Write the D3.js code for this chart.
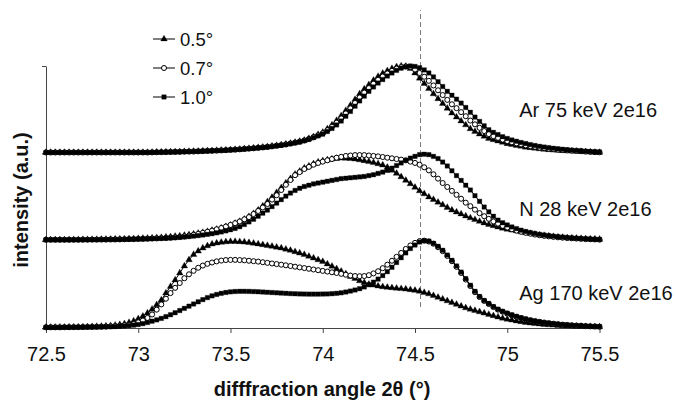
<!DOCTYPE html>
<meta charset="utf-8">
<style>
body { margin: 0; background: #fff; }
svg { font-family: "Liberation Sans", Arial, sans-serif; }
.axis path, .axis line { stroke: #444; }
.axis text { font-size: 20px; fill: #111; font-family: "Liberation Sans", Arial, sans-serif; }
.curve { fill: none; stroke: #000; stroke-width: 1px; }
.title { font-size: 20px; font-weight: bold; fill: #111; }
.label { font-size: 20px; fill: #111; }
.legend text { font-size: 18.5px; fill: #111; }
</style>
<script src="https://cdn.jsdelivr.net/npm/d3@7"></script>
<body>
<script>

var width = 676,
    height = 401;

// 2theta grid, one reading every 0.025 deg
var angles = d3.range(121).map(function(i) { return 72.5 + i * 0.025; });
var xTicks = [72.5, 73, 73.5, 74, 74.5, 75, 75.5];
var tilts = ["0.5°", "0.7°", "1.0°"];
var refAngle = 74.53;         // dashed reference line
var refSpan = [0.24, 3.64];

// intensities in % of one stack step
var ar05 = [1,1,1,1,1,1,1,1,1,1, 1,1,1,1,1,1,1,1,1,1,
  1,1,1,1.1,1.3,1.4,1.5,1.6,1.7,1.8, 2,2.1,2.2,2.4,2.6,2.8,3,3.2,3.5,3.7,
  4,4.3,4.7,5.1,5.5,6,6.5,7,7.5,8.2, 8.9,9.7,10.5,11.5,12.5,13.7,15,17,19,21.5,
  24,28,32.5,37.5,43,49,55,61.5,68,73.5, 78.5,83.5,88,91.5,94.5,97,99,100,99.5,97,
  92,86,80,74,68,62.5,57,51.5,46,41.5, 37,32.5,28,25,22,19.5,17,15.5,14,12.5,
  11,10,9,8,7,6.4,5.8,5.1,4.5,4.1, 3.7,3.3,3,2.7,2.5,2.2,2,1.7,1.5,1.2, 1];
var ar07 = [1,1,1,1,1,1,1,1,1,1, 1,1,1,1,1,1,1,1,1,1,
  1,1,1,1.1,1.2,1.3,1.4,1.5,1.6,1.7, 1.9,2,2.1,2.3,2.5,2.7,2.9,3.1,3.4,3.6,
  3.9,4.2,4.6,5,5.4,5.8,6.3,6.8,7.3,8, 8.7,9.4,10.2,11.2,12.2,13.3,14.7,16.5,18.5,20.7,
  23,26.5,30.5,35,40,45.7,51.5,57.7,64,69.5, 74.7,79.7,84.2,88,91.5,94.5,97,98.7,99.5,99,
  96,92,87.7,83,77.7,72.2,66.7,61.2,56.2,51.7, 47.2,42.5,37.5,33.2,29.2,25.5,22,19.7,17.7,15.7,
  14,12.6,11.4,10.2,9.1,8.2,7.4,6.5,5.8,5.3, 4.7,4.2,3.8,3.4,3,2.7,2.4,2,1.7,1.4, 1.2];
var ar10 = [1,1,1,1,1,1,1,1,1,1, 1,1,1,1,1,1,1,1,1,1,
  1,1,1,1.1,1.2,1.3,1.4,1.5,1.6,1.7, 1.8,2,2.1,2.3,2.5,2.7,2.9,3.1,3.3,3.6,
  3.9,4.2,4.5,4.9,5.3,5.7,6.2,6.7,7.2,7.8, 8.5,9.2,10,11,12,13,14.5,16,18,20,
  22,25,28.5,32.5,37,42.5,48,54,60,65.5, 71,76,80.5,84.5,88.5,92,95,97.5,99,100,
  99.5,98,95.5,92,87.5,82,76.5,71,66.5,62, 57.5,52.5,47,41.5,36.5,31.5,27,24,21.5,19,
  17,15.3,13.8,12.4,11.2,10,9,8,7.2,6.5, 5.8,5.2,4.6,4.1,3.6,3.2,2.8,2.4,2,1.7, 1.5];

var n05 = [1,1,1,1,1,1,1.1,1.1,1.2,1.2, 1.3,1.3,1.4,1.5,1.6,1.7,1.8,1.9,2,2.2,
  2.4,2.6,2.8,3,3.3,3.6,4,4.4,4.9,5.4, 6,6.7,7.5,8.4,9.4,10.5,11.7,13,14.4,16,
  17.7,19.8,22,24.5,27.5,31,35,39.5,44.5,49.5, 55,60.5,66,71,76,79.5,83,85.5,88,90,
  91.5,92.5,93.5,94,94.5,94.3,94,93.3,92.5,91.5, 90.5,89.3,88,86.5,84,80.5,77,73,69,65,
  61,57,53.5,50,47,44,41,38,35,32.7, 30.5,28.2,26,24,22,20.2,18.5,17,15.5,14.2,
  13,12,11,10,9,8.1,7.2,6.5,5.8,5.2, 4.6,4.1,3.7,3.3,3,2.7,2.4,2.1,1.9,1.7, 1.5];
var n07 = [1,1,1,1,1,1,1,1,1.1,1.1, 1.2,1.2,1.3,1.3,1.4,1.4,1.5,1.6,1.7,1.8,
  2,2.1,2.3,2.5,2.7,2.9,3.1,3.4,3.8,4.3, 4.9,5.8,6.8,7.8,9,10.2,11.5,13,14.5,16.2,
  18,20,22,24.5,27,30.5,34,38,42,47, 52,58,64,69.5,75,78.5,82,84.5,87,89,
  90.5,92,93.5,95,96,97,97.5,98,98,98, 97.5,97,96.5,95.8,95,94.3,93.5,92.8,92,90.5,
  89,87,84,80.5,76,71,66,61.5,57,52.5, 48,43.5,39.5,35.5,31.5,28,25,22,19.5,17,
  15,13,11.5,10.2,9,8,7,6.2,5.5,4.9, 4.3,3.8,3.4,3,2.7,2.4,2.1,1.8,1.6,1.4, 1.2];
var n10 = [1,1,1,1,1,1,1,1,1,1, 1.1,1.1,1.2,1.2,1.3,1.3,1.4,1.5,1.6,1.7,
  1.8,1.9,2,2.2,2.4,2.6,2.8,3.1,3.4,3.8, 4.2,4.7,5.2,5.8,6.5,7.2,8,9,10,11.2,
  12.5,14,16,18.5,21.5,24.5,28,31.5,35,39, 43,47,51,54.5,57.5,60,62,63.5,65,66,
  67,68,69,70,71,71.5,72,72.5,73,73.5, 74.5,75.5,77,78.5,80.5,83,86,89,92,94.5,
  96.5,98.5,99,98.5,96.5,94,90,85.5,80,74.5, 69,63.5,58,51.5,45,38.5,33,28,23.5,20.5,
  18,15.7,13.8,12,10.5,9.3,8.2,7.2,6.4,5.7, 5.1,4.5,4,3.5,3.1,2.7,2.4,2.1,1.8,1.5, 1.3];

var ag05 = [0.8,0.8,0.8,0.9,0.9,1,1,1.1,1.2,1.3, 1.5,1.7,1.9,2.2,2.6,3.1,3.8,4.8,6.2,8,
  10.5,13.5,17,21.5,26.5,32,40,47.5,55,63, 71,78,84,88,91.5,94,96,97.2,98,98.6,
  99,99,98.8,98.3,97.7,97,96.2,95.3,94.4,93.5, 92.5,91.5,90.2,88.8,87.3,85.7,84,82,80,78,
  76,73.3,70.6,67.8,65,62,59,56.5,54,52, 50,49,48,47.2,46.5,46,45.5,45,44.5,43.8,
  43,42,40.5,39,37,35,33,31,29,27, 25,23,21.5,20,18.5,17,15.5,14,12.5,11.2,
  10,9,8,7.1,6.3,5.6,5,4.5,4,3.6, 3.2,2.9,2.6,2.3,2.1,1.9,1.8,1.6,1.5,1.4, 1.3];
var ag07 = [0.8,0.8,0.8,0.8,0.9,0.9,1,1,1.1,1.2, 1.3,1.4,1.5,1.7,1.9,2.2,2.6,3.1,3.7,4.5,
  6.5,8.5,11.5,15.5,21,27,33.5,40,46,51.5, 57,61.5,65.5,69,71.5,73.5,75,76.3,77.2,77.8,
  78,78,77.8,77.5,77,76.5,76,75.3,74.6,73.9, 73.2,72.5,71.8,71,70.2,69.4,68.6,67.8,67,66.2,
  65.4,64.6,63.8,63,62,61,60,59.5,59.3,59.5, 60.5,62.5,65,68.5,72.5,77,81.5,86,90.5,94.5,
  97.5,99.5,100,99,96.5,92.5,88,82.5,76.5,70, 63,55.5,48,41,35.5,31,27.5,24,21,18.7,
  16.5,14.5,12.8,11.3,10,8.8,7.8,7,6.2,5.5, 4.9,4.3,3.8,3.4,3,2.7,2.4,2.1,1.9,1.7, 1.5];
var ag10 = [0.7,0.7,0.7,0.7,0.8,0.8,0.8,0.9,0.9,1, 1,1.1,1.2,1.3,1.5,1.7,2,2.3,2.8,3.3,
  4,5,6.3,7.8,9.3,11,13,15.2,17.5,20, 22.5,25,27.5,30,32.5,34.8,36.8,38.4,39.7,40.7,
  41.4,41.8,42,42,41.9,41.7,41.5,41.2,40.9,40.6, 40.3,40,39.7,39.4,39.2,39,38.9,38.8,38.8,38.8,
  38.9,39,39.3,39.7,40.3,41.2,42.3,43.5,45,47, 49.5,52.5,56,60,64.5,69.5,75,80.5,86,91,
  95,98.5,100,99.5,97,93.5,89,83.5,77.5,71, 64,56.5,49,42,36,31.5,28,24.5,21.5,19,
  17,15,13.3,11.7,10.3,9.1,8,7.1,6.3,5.6, 5,4.4,3.9,3.5,3.1,2.8,2.5,2.2,2,1.8, 1.6];

var samples = [
  {name: "Ar 75 keV 2e16", offset: 2, series: [ar05, ar07, ar10], at: [75.065, 2.42]},
  {name: "N 28 keV 2e16", offset: 1, series: [n05, n07, n10], at: [75.065, 1.28]},
  {name: "Ag 170 keV 2e16", offset: 0, series: [ag05, ag07, ag10], at: [75.065, 0.32]}
];

var svg = d3.select("body")
  .append("svg")
    .attr("width", width)
    .attr("height", height);

var x = d3.scaleLinear().domain([72.5, 75.5]).range([46, 599.5]);
var y = d3.scaleLinear().domain([0, 3]).range([328, 66]);

// one marker per tilt: filled triangle, open circle, filled square
var shapes = [
  d3.symbol().type(d3.symbolTriangle).size(19),
  d3.symbol().type(d3.symbolCircle).size(20),
  d3.symbol().type(d3.symbolSquare).size(20)
];
var fills = ["#000", "#fff", "#000"];

function marker(sel, k) {
  sel.attr("d", shapes[k])
    .attr("fill", fills[k])
    .attr("stroke", "#000")
    .attr("stroke-width", k == 1 ? 1 : 0.3);
}

// axes
svg.append("g")
  .attr("class", "axis")
  .attr("transform", "translate(0,328)")
  .call(d3.axisBottom(x).tickValues(xTicks).tickSize(5).tickSizeOuter(0).tickPadding(14)
    .tickFormat(function(d) { return String(d); }));

svg.append("g")
  .attr("class", "axis")
  .attr("transform", "translate(46,0)")
  .call(d3.axisLeft(y).tickValues([0, 1, 2, 3]).tickSize(4).tickSizeOuter(0).tickFormat(""));

// reference line at the bulk peak
svg.append("line")
  .attr("x1", x(refAngle)).attr("x2", x(refAngle))
  .attr("y1", y(refSpan[0])).attr("y2", y(refSpan[1]))
  .attr("stroke", "#777")
  .attr("stroke-width", 1)
  .attr("stroke-dasharray", "5,3");

samples.forEach(function(s) {
  s.series.forEach(function(vals, k) {
    var pts = vals.map(function(v, i) { return [angles[i], s.offset + v / 100]; });
    var g = svg.append("g");
    g.append("path")
      .attr("class", "curve")
      .attr("d", d3.line().x(function(d) { return x(d[0]); }).y(function(d) { return y(d[1]); })(pts));
    g.selectAll("path.pt")
      .data(pts)
      .enter()
        .append("path")
          .attr("class", "pt")
          .attr("transform", function(d) { return "translate(" + x(d[0]) + "," + y(d[1]) + ")"; })
          .call(marker, k);
  });
  svg.append("text")
    .attr("class", "label")
    .attr("x", x(s.at[0]))
    .attr("y", y(s.at[1]))
    .text(s.name);
});

// legend
var legend = svg.append("g").attr("class", "legend");
tilts.forEach(function(t, k) {
  var ly = 39 + k * 29;
  legend.append("line")
    .attr("x1", 153).attr("x2", 175).attr("y1", ly).attr("y2", ly)
    .attr("stroke", "#000");
  legend.append("path")
    .attr("transform", "translate(164," + ly + ")")
    .call(marker, k);
  legend.append("text")
    .attr("x", 180)
    .attr("y", ly + 6.5)
    .text(t);
});

// axis titles
svg.append("text")
  .attr("class", "title")
  .attr("x", 322)
  .attr("y", 396)
  .attr("text-anchor", "middle")
  .text("difffraction angle 2θ (°)");

svg.append("text")
  .attr("class", "title")
  .attr("transform", "translate(28,200) rotate(-90)")
  .attr("text-anchor", "middle")
  .text("intensity (a.u.)");

</script>
</body>
